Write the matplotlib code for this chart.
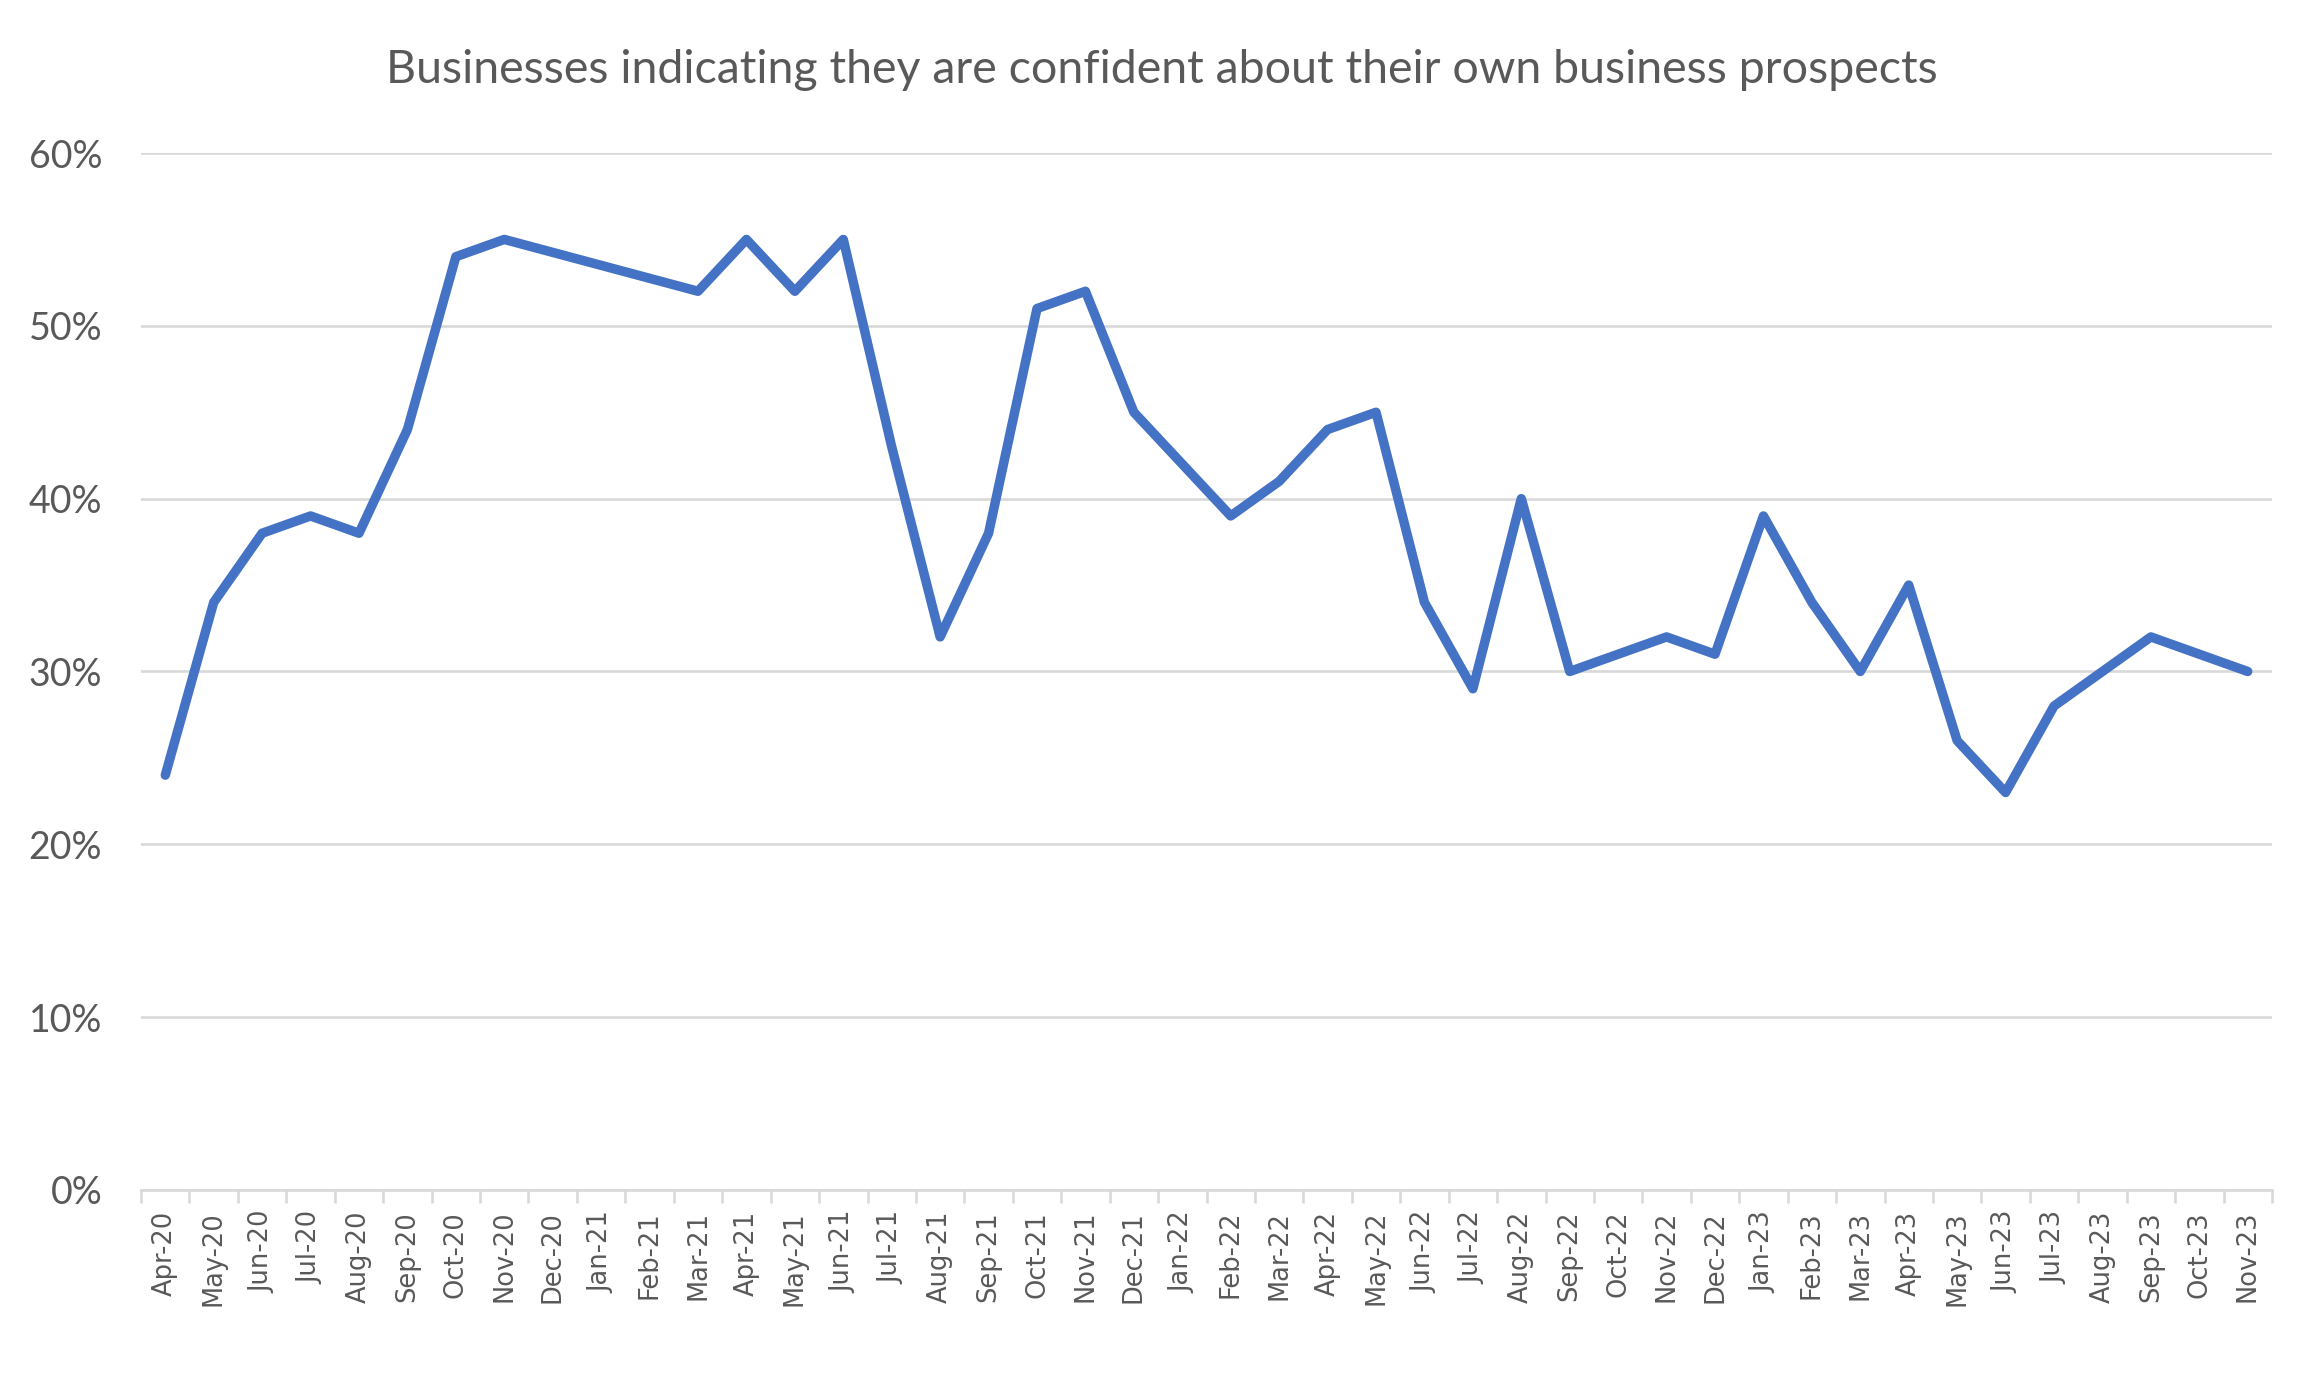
import numpy as np
import matplotlib
matplotlib.use("Agg")
import matplotlib.pyplot as plt
from matplotlib.ticker import FixedLocator, PercentFormatter

months = ["Apr-20", "May-20", "Jun-20", "Jul-20", "Aug-20", "Sep-20", "Oct-20", "Nov-20",
          "Dec-20", "Jan-21", "Feb-21", "Mar-21", "Apr-21", "May-21", "Jun-21", "Jul-21",
          "Aug-21", "Sep-21", "Oct-21", "Nov-21", "Dec-21", "Jan-22", "Feb-22", "Mar-22",
          "Apr-22", "May-22", "Jun-22", "Jul-22", "Aug-22", "Sep-22", "Oct-22", "Nov-22",
          "Dec-22", "Jan-23", "Feb-23", "Mar-23", "Apr-23", "May-23", "Jun-23", "Jul-23",
          "Aug-23", "Sep-23", "Oct-23", "Nov-23"]

# share of businesses confident (%); None = no survey that month (line is joined across)
confident = [24, 34, 38, 39, 38, 44, 54, 55,
             None, None, None, 52, 55, 52, 55, 43,
             32, 38, 51, 52, 45, 42, 39, 41,
             44, 45, 34, 29, 40, 30, 31, 32,
             31, 39, 34, 30, 35, 26, 23, 28,
             30, 32, 31, 30]

title = "Businesses indicating they are confident about their own business prospects"

TEXT_COLOR = "#595959"
LINE_COLOR = "#4472C4"
GRID_COLOR = "#D9D9D9"

fig = plt.figure(figsize=(23.24, 13.76), dpi=100)
ax = fig.add_axes([0.0607, 0.1352, 0.9169, 0.7536])

x = np.arange(len(months))
vals = np.array([np.nan if v is None else v for v in confident], dtype=float)
ok = ~np.isnan(vals)
ax.plot(x[ok], vals[ok], color=LINE_COLOR, linewidth=6.8,
        solid_capstyle="round", solid_joinstyle="round", zorder=3)

ax.set_xlim(-0.5, len(months) - 0.5)
ax.set_ylim(0, 60)
ax.set_yticks(np.arange(0, 61, 10))
ax.yaxis.set_major_formatter(PercentFormatter(decimals=0))
ax.grid(axis="y", color=GRID_COLOR, linewidth=1.9, zorder=0)
ax.set_axisbelow(True)

# labels on the categories, tick marks between them (Excel style)
ax.set_xticks(x)
ax.set_xticklabels(months, rotation=90, fontsize=18.5, color=TEXT_COLOR,
                   family="DejaVu Sans")
ax.xaxis.set_minor_locator(FixedLocator(np.arange(-0.5, len(months), 1.0)))
ax.tick_params(axis="x", which="major", length=0, pad=15)
ax.tick_params(axis="x", which="minor", length=9.5, width=1.9, color=GRID_COLOR)
ax.tick_params(axis="y", length=0, pad=28, labelsize=27, labelcolor=TEXT_COLOR)
for lbl in ax.get_yticklabels():
    lbl.set_family("Lato")

for side in ["top", "right", "left"]:
    ax.spines[side].set_visible(False)
ax.spines["bottom"].set_color(GRID_COLOR)
ax.spines["bottom"].set_linewidth(1.9)

fig.text(0.5, 0.949, title, ha="center", va="center", fontsize=33.5,
         family="Lato", color=TEXT_COLOR)

fig.savefig("out.png", dpi=100, facecolor="white")
